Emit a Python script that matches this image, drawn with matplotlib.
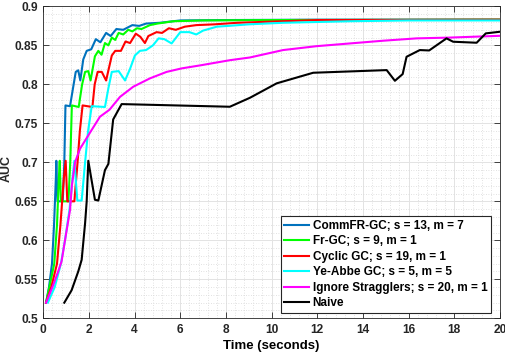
import matplotlib
matplotlib.use("Agg")
import matplotlib.pyplot as plt
from matplotlib.ticker import MultipleLocator

plt.rcParams['font.family'] = ['Liberation Sans', 'DejaVu Sans']

labels = ["CommFR-GC; s = 13, m = 7", "Fr-GC; s = 9, m = 1", "Cyclic GC; s = 19, m = 1",
          "Ye-Abbe GC; s = 5, m = 5", "Ignore Stragglers; s = 20, m = 1", "Naive"]
colors = ["#0072BD", "#00FF00", "#FF0000", "#00FFFF", "#FF00FF", "#000000"]

blue_x = [0.12,0.25,0.38,0.47,0.55,0.57,0.62,0.85,0.92,0.97,1.17,1.3,1.42,1.53,1.62,1.75,1.9,2.1,2.3,2.5,2.75,2.95,3.2,3.5,3.9,4.2,4.5,5.1,6.0,8.0,12,20]
blue_y = [0.52,0.54,0.57,0.62,0.68,0.702,0.65,0.65,0.70,0.773,0.772,0.795,0.816,0.818,0.805,0.832,0.843,0.845,0.858,0.854,0.866,0.862,0.871,0.870,0.876,0.875,0.878,0.879,0.882,0.8825,0.883,0.883]

green_x = [0.12,0.3,0.48,0.6,0.68,0.72,0.77,1.1,1.18,1.25,1.55,1.7,1.83,1.97,2.07,2.26,2.41,2.55,2.7,2.85,3.0,3.15,3.3,3.5,3.72,3.9,4.1,4.3,4.67,5.0,5.7,7,10,20]
green_y = [0.52,0.545,0.57,0.62,0.68,0.702,0.65,0.65,0.70,0.773,0.771,0.80,0.816,0.817,0.805,0.836,0.843,0.838,0.853,0.850,0.860,0.857,0.866,0.864,0.870,0.868,0.872,0.871,0.876,0.878,0.881,0.882,0.8825,0.883]

red_x = [0.12,0.35,0.6,0.75,0.9,0.98,1.05,1.36,1.5,1.6,1.72,2.15,2.25,2.38,2.56,2.75,3.0,3.15,3.4,3.6,3.8,4.05,4.25,4.45,4.6,4.96,5.2,5.5,5.8,6.2,6.7,7.5,8.5,10.5,12,20]
red_y = [0.52,0.54,0.57,0.62,0.68,0.702,0.65,0.65,0.70,0.74,0.773,0.771,0.80,0.816,0.816,0.805,0.837,0.843,0.843,0.855,0.853,0.865,0.861,0.853,0.862,0.867,0.866,0.872,0.870,0.874,0.876,0.877,0.879,0.881,0.8825,0.883]

cyan_x = [0.2,0.5,0.77,0.95,1.15,1.28,1.36,1.49,1.68,1.83,1.96,2.12,2.7,2.85,3.0,3.3,3.58,3.8,4.01,4.23,4.5,4.8,5.05,5.3,5.62,6.0,6.4,6.7,7.0,7.6,8.1,9.0,10.5,12,13.5,16,20]
cyan_y = [0.52,0.54,0.57,0.60,0.64,0.68,0.702,0.651,0.651,0.70,0.74,0.772,0.771,0.795,0.816,0.817,0.805,0.82,0.837,0.843,0.844,0.85,0.859,0.858,0.8525,0.867,0.867,0.864,0.869,0.874,0.875,0.877,0.879,0.880,0.881,0.882,0.882]

mag_x = [0.12,0.4,0.65,0.8,0.95,1.17,1.25,1.39,1.6,2.0,2.48,2.9,3.36,3.94,4.67,5.4,6.06,6.9,8.17,9.05,10.5,11.97,13.43,14.89,16.35,17.8,20]
mag_y = [0.52,0.54,0.56,0.573,0.60,0.639,0.67,0.70,0.717,0.736,0.7585,0.7675,0.784,0.797,0.8077,0.816,0.8205,0.8245,0.831,0.8345,0.844,0.849,0.8525,0.856,0.859,0.860,0.8623]

black_x = [0.92,1.24,1.53,1.68,1.83,1.9,1.97,2.26,2.41,2.7,2.85,3.06,3.43,8.17,9.05,10.22,11.82,15.04,15.4,15.74,15.91,16.49,16.9,17.66,17.95,18.98,19.38,20]
black_y = [0.52,0.536,0.56,0.575,0.622,0.65,0.702,0.652,0.651,0.69,0.698,0.755,0.7747,0.7713,0.7828,0.8013,0.8149,0.8183,0.8046,0.8132,0.8354,0.844,0.8435,0.859,0.8547,0.8534,0.8654,0.8675]

xs = [blue_x, green_x, red_x, cyan_x, mag_x, black_x]
ys = [blue_y, green_y, red_y, cyan_y, mag_y, black_y]

x_ticks = [0, 2, 4, 6, 8, 10, 12, 14, 16, 18, 20]
y_ticks = [0.5, 0.55, 0.6, 0.65, 0.7, 0.75, 0.8, 0.85, 0.9]
y_tick_labels = ["0.5", "0.55", "0.6", "0.65", "0.7", "0.75", "0.8", "0.85", "0.9"]

fig = plt.figure(figsize=(5.06, 3.56), dpi=100)
ax = fig.add_axes([0.0856, 0.106, 0.9024, 0.876])

for x, y, c, l in zip(xs, ys, colors, labels):
    ax.plot(x, y, color=c, lw=1.5, label=l)

ax.set_xlim(0, 20)
ax.set_ylim(0.5, 0.9)
ax.set_xticks(x_ticks)
ax.set_yticks(y_ticks)
ax.set_yticklabels(y_tick_labels)
ax.xaxis.set_minor_locator(MultipleLocator(0.4))
ax.yaxis.set_minor_locator(MultipleLocator(0.01))
ax.grid(which='major', color='#e3e3e3', lw=0.7, ls='-')
ax.grid(which='minor', color='#d8d8d8', lw=0.6, ls=(0, (1, 2)))
ax.set_axisbelow(True)
ax.tick_params(which='major', direction='in', length=4, width=0.6, top=True, right=True,
               labelsize=8.6, colors='#262626', pad=4)
ax.tick_params(which='minor', direction='in', length=0, top=True, right=True)
for lbl in ax.get_xticklabels() + ax.get_yticklabels():
    lbl.set_fontweight('bold')
for s in ax.spines.values():
    s.set_color('#262626')
    s.set_linewidth(0.6)

ax.set_xlabel("Time (seconds)", fontsize=9.5, fontweight='bold', labelpad=3)
fig.text(6.5 / 506, 1 - 168 / 356, "AUC", fontsize=9, fontweight='bold', rotation=90,
         ha='center', va='center', color='#262626')

leg = ax.legend(loc='lower right', bbox_to_anchor=(0.980, 0.017),
                prop={'weight': 'bold', 'size': 8.5},
                frameon=True, fancybox=False, borderpad=0.3, labelspacing=0.3,
                handlelength=2.1, handletextpad=0.3, borderaxespad=0.0)
leg.get_frame().set_edgecolor('#262626')
leg.get_frame().set_linewidth(0.8)
leg.get_frame().set_alpha(1)

fig.savefig("out.png", dpi=100)
